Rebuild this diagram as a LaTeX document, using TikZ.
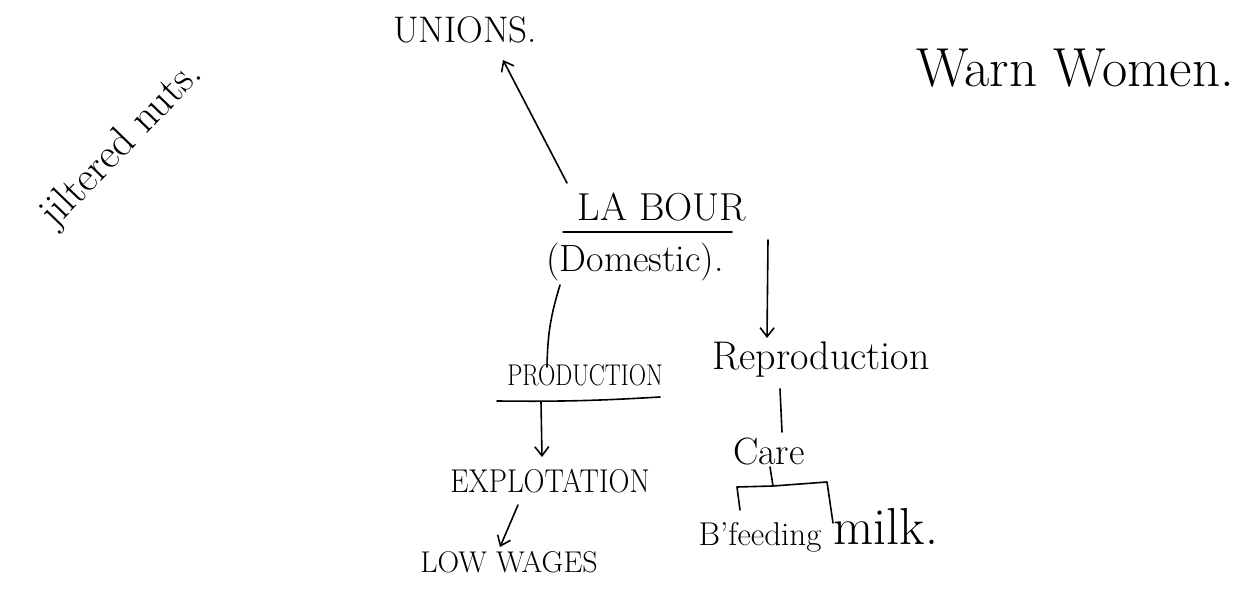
\documentclass[tikz,border=0pt]{standalone}
\usetikzlibrary{arrows.meta}
\tikzset{
  lbl/.style={inner sep=0pt, font=\fontsize{#1}{#1}\selectfont},
  lbl/.default=28,
  ink/.style={line width=1.6pt, line cap=round, line join=round},
  arr/.style={ink, -{Straight Barb[length=9pt,width=14pt,line width=1.6pt]}},
}
\begin{document}
\begin{tikzpicture}[x=1pt,y=-1pt]
\useasboundingbox (0,0) rectangle (1243,596);
% texts
\node[lbl=37] (unions) at (465,30) {UNIONS.};
\node[lbl=55] (warn) at (1075,68) {Warn Women.};
\node[lbl=42, rotate=46] (jilt) at (122,145) {jiltered nuts.};
\node[lbl=39] (labour) at (662,207) {LA BOUR};
\node[lbl=38] (domestic) at (635,262) {(Domestic).};
\node[lbl=30, xscale=0.8] (production) at (585,375) {PRODUCTION};
\node[lbl=40] (reproduction) at (821,360) {Reproduction};
\node[lbl=33, xscale=0.88] (exploit) at (550,481) {EXPLOTATION};
\node[lbl=30] (lowwages) at (509,562) {LOW WAGES};
\node[lbl=38] (care) at (769,452) {Care};
\node[lbl=33] (bfeed) at (760,537) {B'feeding};
\node[lbl=52] (milk) at (886,526) {milk.};
% underlines
\draw[ink] ([shift={(-99,25)}]labour.center) -- ([shift={(70,25)}]labour.center);
\draw[ink] ([shift={(-88,26)}]production.center) to[bend right=2] ([shift={(75,22)}]production.center);
% connectors
\draw[arr] ([shift={(-95,-24)}]labour.center) -- ([shift={(38,30)}]unions.center);
\draw[arr] ([shift={(106,33)}]labour.center) -- ([shift={(-54,-22)}]reproduction.center);
\draw[ink] ([shift={(-75,23)}]domestic.center) to[bend right=8] ([shift={(-38,-8)}]production.center);
\draw[arr] ([shift={(-44,27)}]production.center) -- ([shift={(-8,-24)}]exploit.center);
\draw[arr] ([shift={(-32,24)}]exploit.center) -- ([shift={(-9,-15)}]lowwages.center);
\draw[ink] ([shift={(-41,29)}]reproduction.center) -- ([shift={(13,-20)}]care.center);
% bracket
\coordinate (bl) at (737,487);
\coordinate (bm) at (773,486);
\coordinate (br) at (827,482);
\draw[ink] ([shift={(1,15)}]care.center) -- (bm);
\draw[ink] ([shift={(-20,-27)}]bfeed.center) -- (bl) -- (bm) -- (br) -- ([shift={(-53,-3)}]milk.center);
\end{tikzpicture}
\end{document}
